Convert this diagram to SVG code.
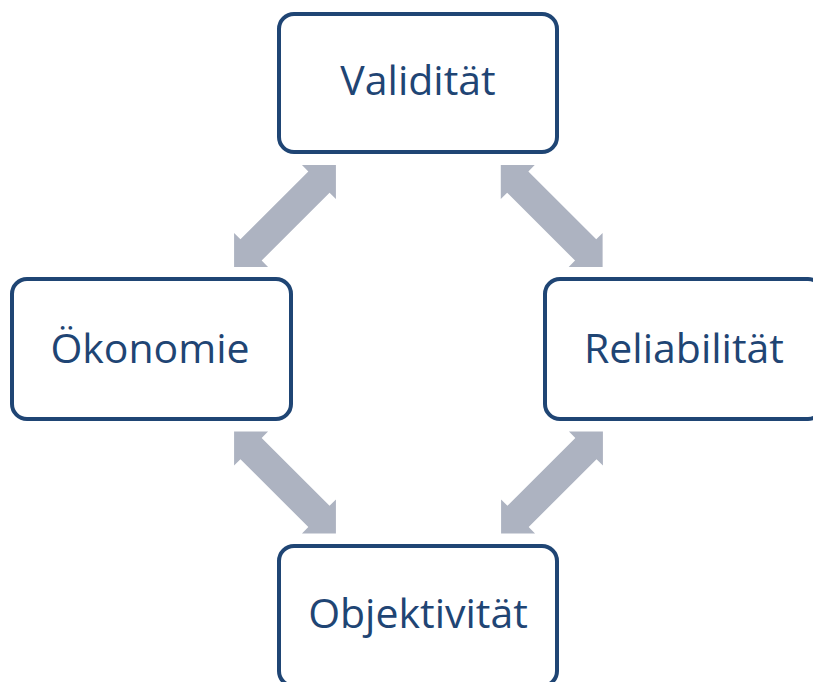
<svg xmlns="http://www.w3.org/2000/svg" width="813" height="682" viewBox="0 0 813 682">
<style>
.box{fill:#ffffff;stroke:#1f4574;stroke-width:4}
.lbl{font-family:"Open Sans","Liberation Sans",sans-serif;font-size:41px;fill:#1f4574;text-anchor:middle}
.arr{fill:#adb3c1}
</style>
<defs>
<path id="dbl" d="M -72,0 L -48,-24 L -48,-15 L 48,-15 L 48,-24 L 72,0 L 48,24 L 48,15 L -48,15 L -48,24 Z"/>
</defs>
<rect width="813" height="682" fill="#ffffff"/>
<g id="connectors">
<use href="#dbl" class="arr" transform="translate(285,216) rotate(-45)"/>
<use href="#dbl" class="arr" transform="translate(551.7,216) rotate(45)"/>
<use href="#dbl" class="arr" transform="translate(285,482.5) rotate(45)"/>
<use href="#dbl" class="arr" transform="translate(552,482.5) rotate(-45)"/>
</g>
<g id="validitaet">
<rect class="box" x="279" y="14" width="278" height="138" rx="15"/>
<text class="lbl" x="418" y="95">Validität</text>
</g>
<g id="oekonomie">
<rect class="box" x="12" y="279" width="279" height="140" rx="15"/>
<text class="lbl" x="150" y="363">Ökonomie</text>
</g>
<g id="reliabilitaet">
<rect class="box" x="545" y="279" width="278" height="140" rx="15"/>
<text class="lbl" x="684" y="363">Reliabilität</text>
</g>
<g id="objektivitaet">
<rect class="box" x="279" y="546" width="278" height="140" rx="15"/>
<text class="lbl" x="418" y="628">Objektivität</text>
</g>
</svg>
